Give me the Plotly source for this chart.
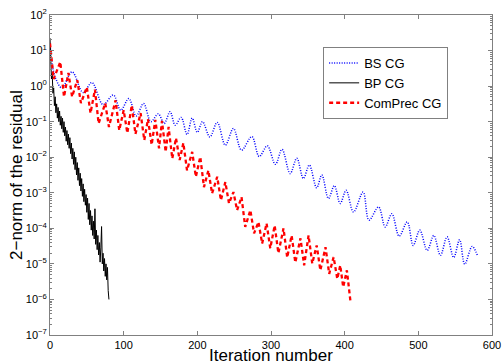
import plotly.graph_objects as go

# ---- data (log10 of residual norm) ----
bs_iter = [0, 3, 8, 16, 30, 45, 57, 72, 86, 96, 107, 117, 127, 137, 147, 155, 163, 170, 178, 186,
           193, 200, 207, 217, 227, 238, 249, 260, 274, 284, 295, 306, 315, 326, 335, 344, 352, 362,
           369, 378, 386, 394, 402, 412, 425, 433, 446, 455, 464, 474, 485, 493, 502, 512, 521, 530,
           539, 548, 556, 563, 573, 580]
bs_log = [1.2, 0.6, 0.2, -0.05, 0.40, -0.18, 0.10, -0.52, -0.25, -0.68, -0.35, -0.84, -0.49, -1.0,
          -0.78, -1.05, -0.72, -1.10, -0.88, -1.36, -0.90, -1.30, -1.0, -1.43, -1.02, -1.66, -1.19,
          -1.80, -1.42, -1.98, -1.68, -2.2, -1.78, -2.46, -2.03, -2.60, -2.22, -2.86, -2.50, -3.16,
          -2.80, -3.30, -2.93, -3.54, -2.98, -3.77, -3.40, -3.96, -3.59, -4.22, -3.82, -4.48, -4.05,
          -4.62, -4.20, -4.76, -4.24, -4.82, -4.32, -5.01, -4.51, -4.75]

bp_iter = list(range(0, 81))
bp_log = [1.35, 0.8, 0.2, 0.35, -0.2, -0.05, -0.55, -0.3, -0.75, -0.5, -0.9, -0.6, -1.0, -0.7,
          -1.1, -0.85, -1.2, -0.9, -1.3, -1.0, -1.4, -1.15, -1.55, -1.25, -1.65, -1.35, -1.75,
          -1.45, -1.9, -1.6, -2.05, -1.75, -2.2, -1.85, -2.35, -2.0, -2.5, -2.15, -2.65, -2.3, -2.8,
          -2.45, -2.95, -2.6, -3.1, -2.75, -3.25, -2.9, -3.35, -3.05, -3.55, -3.15, -3.75, -3.3,
          -3.9, -3.5, -4.05, -3.65, -4.2, -3.8, -4.3, -3.45, -4.45, -4.05, -4.6, -4.2, -4.75, -4.4,
          -4.95, -4.55, -3.95, -5.0, -4.7, -5.2, -4.85, -5.35, -5.0, -5.45, -5.1, -5.75, -6.0]

cp_iter = [0, 5, 14, 19, 25, 30, 37, 42, 50, 55, 61, 66, 75, 80, 89, 94, 100, 105, 111, 116, 123,
           128, 133, 138, 143, 148, 152, 157, 161, 166, 171, 176, 181, 186, 193, 198, 204, 209, 215,
           220, 227, 232, 238, 243, 249, 254, 260, 265, 272, 277, 283, 288, 294, 299, 305, 310, 317,
           322, 328, 333, 340, 345, 351, 356, 362, 367, 374, 379, 385, 390, 394, 398, 403, 408]
cp_log = [1.2, 0.2, 0.68, -0.3, 0.37, -0.3, 0.17, -0.48, -0.03, -0.76, -0.1, -1.05, -0.48, -1.15,
          -0.4, -1.24, -0.68, -1.32, -0.54, -1.35, -0.76, -1.52, -0.93, -1.65, -0.95, -1.75, -0.98,
          -1.85, -1.15, -2.04, -1.46, -2.08, -1.6, -2.37, -1.85, -2.55, -1.99, -2.84, -2.37, -3.02,
          -2.55, -3.21, -2.70, -3.30, -2.98, -3.49, -3.12, -3.96, -3.49, -4.14, -3.82, -4.43, -3.86,
          -4.56, -3.92, -4.70, -4.0, -4.82, -4.2, -4.96, -4.28, -5.04, -4.2, -4.99, -4.48, -5.18,
          -4.53, -5.28, -4.81, -5.42, -5.04, -5.65, -5.18, -6.08]

x_ticks = [0, 100, 200, 300, 400, 500, 600]
y_exponents = [-7, -6, -5, -4, -3, -2, -1, 0, 1, 2]
names = ["BS CG", "BP CG", "ComPrec CG"]
x_title = "Iteration number"
y_title = "2\u2212norm of the residual"

FONT = "Liberation Sans, Arial, Helvetica, sans-serif"
AX = "#808080"

fig = go.Figure()
fig.add_trace(go.Scatter(x=bs_iter, y=[10 ** v for v in bs_log], name=names[0], mode="lines",
                         line=dict(color="#0000ff", width=1.5, dash="1px,1.5px", shape="spline")))
fig.add_trace(go.Scatter(x=bp_iter, y=[10 ** v for v in bp_log], name=names[1], mode="lines",
                         line=dict(color="#000000", width=1)))
fig.add_trace(go.Scatter(x=cp_iter, y=[10 ** v for v in cp_log], name=names[2], mode="lines",
                         line=dict(color="#ff0000", width=2.3, dash="4px,3px")))

y_tickvals = [10.0 ** e for e in y_exponents]
y_ticktext = ["10<sup>%s</sup>" % (str(e).replace("-", "\u2212")) for e in y_exponents]
y_minor = [m * 10.0 ** e for e in y_exponents[:-1] for m in range(2, 10)]

fig.update_layout(
    width=503, height=364,
    margin=dict(l=50, r=11, t=15, b=29),
    paper_bgcolor="white", plot_bgcolor="white",
    font=dict(family=FONT, size=11, color="black"),
    showlegend=True,
    legend=dict(x=0.618, y=0.90, xanchor="left", yanchor="top",
                bordercolor=AX, borderwidth=1, bgcolor="white",
                font=dict(size=13), tracegroupgap=0, itemwidth=30),
    annotations=[
        dict(text=x_title, xref="paper", yref="paper", x=0.5, y=-0.063, xanchor="center",
             yanchor="middle", showarrow=False, borderpad=0, font=dict(size=17)),
        dict(text=y_title, xref="paper", yref="paper", x=-0.077, y=0.5, xanchor="center",
             yanchor="middle", showarrow=False, borderpad=0, textangle=-90, font=dict(size=17)),
    ],
)
fig.update_xaxes(
    range=[0, 600], tickvals=x_ticks, ticks="inside", ticklen=4, tickcolor=AX,
    showline=True, linecolor=AX, linewidth=1, mirror="ticks", showgrid=False, zeroline=False,
    automargin=False, tickfont=dict(size=11),
)
fig.update_yaxes(
    type="log", range=[-7, 2], tickvals=y_tickvals, ticktext=y_ticktext, ticks="inside",
    ticklen=4, tickcolor=AX, showline=True, linecolor=AX, linewidth=1, mirror="ticks",
    showgrid=False, zeroline=False, automargin=False,
    minor=dict(tickvals=y_minor, ticks="inside", ticklen=2, tickcolor=AX, showgrid=False),
    tickfont=dict(size=11),
)

fig.write_html("out.html", config={"displayModeBar": False},
               post_script="document.body.style.margin='0';document.body.style.overflow='hidden';")
